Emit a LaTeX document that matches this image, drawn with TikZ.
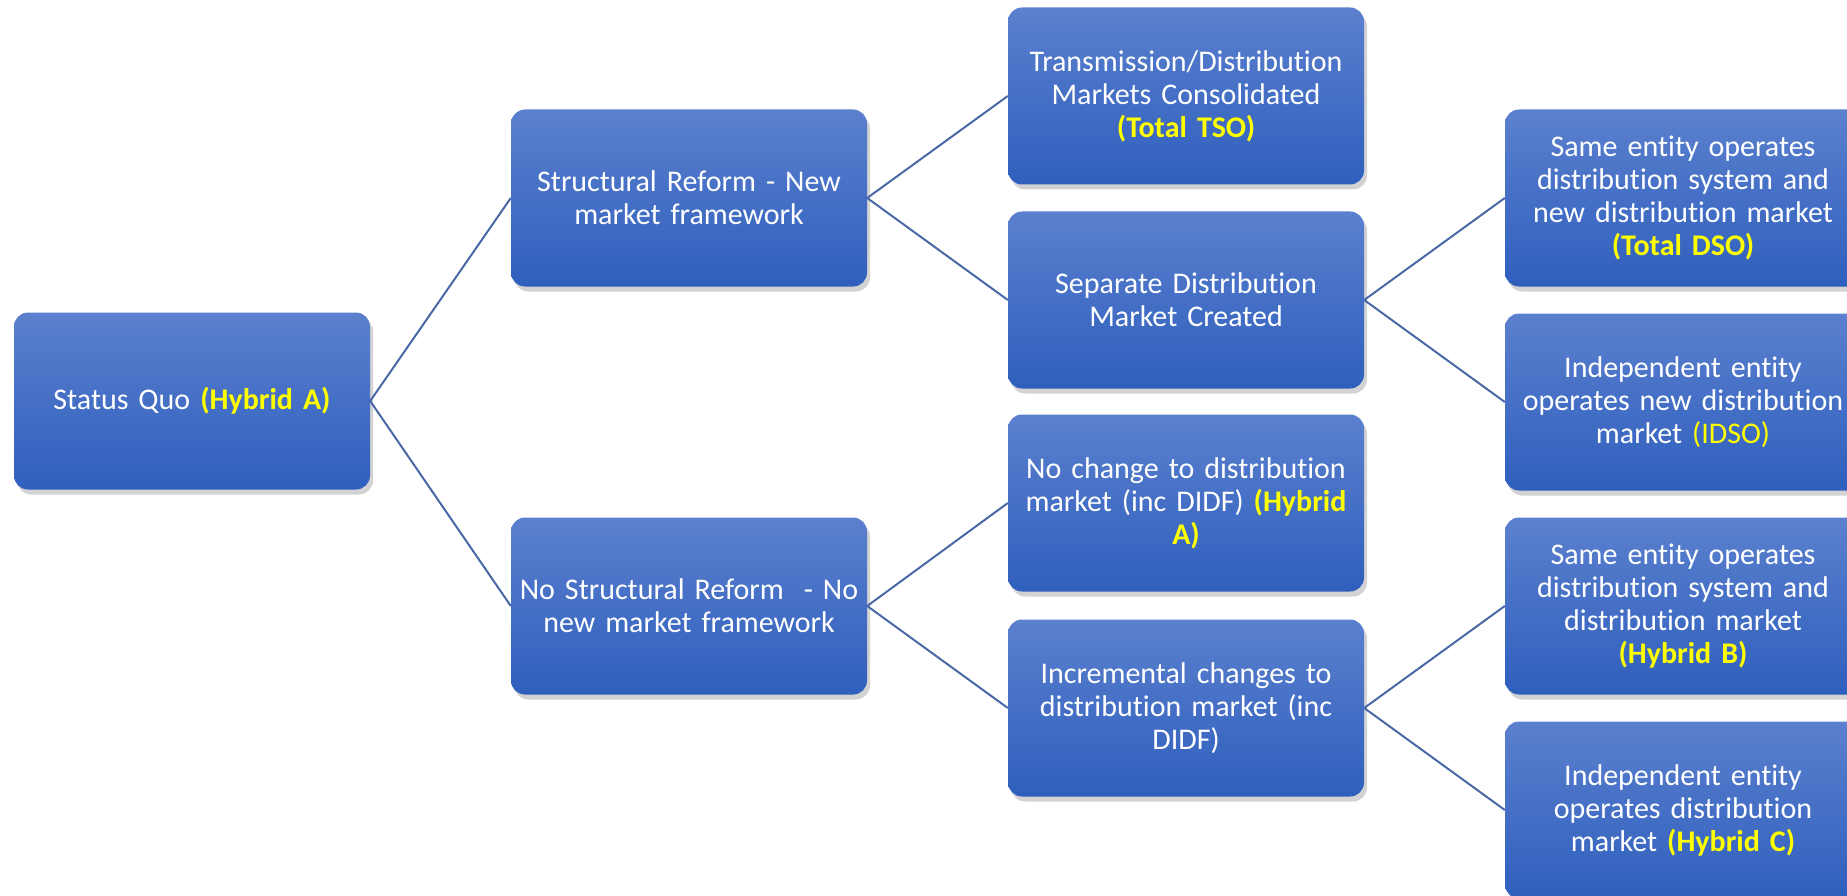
\documentclass[tikz,border=0pt]{standalone}
\usepackage{fontspec}
\setmainfont{Carlito}[Ligatures=NoCommon]
\usetikzlibrary{shapes,arrows,positioning,shadows}
\usepackage{xcolor}
\definecolor{boxtop}{HTML}{5B80CE}
\definecolor{boxbot}{HTML}{2F5FBD}
\definecolor{linkblue}{HTML}{4A68A6}
\definecolor{hlyellow}{HTML}{FFFF00}
\newcommand{\hl}[1]{{\bfseries\color{hlyellow}#1}}

\begin{document}
\begin{tikzpicture}[x=1pt,y=-1pt]
      \tikzstyle{option} = [rectangle, rounded corners=14pt, top color=boxtop, bottom color=boxbot, draw=none,
        drop shadow={shadow xshift=3pt, shadow yshift=-5pt, opacity=0.35},
        minimum width=356pt, minimum height=177pt, text width=346pt, align=center, text=white,
        font=\fontsize{30}{33}\selectfont]
      \tikzstyle{link} = [draw=linkblue, line width=2pt]

      \useasboundingbox (0,0) rectangle (1847,896);
      \clip (0,0) rectangle (1847,896);

      \node[option] (sq) at (192,401) {Status Quo \hl{(Hybrid A)}};

      \node[option] (sr) at (689,198) {Structural Reform - New\\market framework};
      \node[option] (nsr) at (689,606) {No Structural Reform~~- No\\new market framework};

      \node[option] (tso) at (1186,96) {Transmission/Distribution\\Markets Consolidated\\\hl{(Total TSO)}};
      \node[option] (sep) at (1186,300) {Separate Distribution\\Market Created};
      \node[option] (noch) at (1186,503) {No change to distribution\\market (inc DIDF) \hl{(Hybrid}\\\hl{A)}};
      \node[option] (inc) at (1186,708) {Incremental changes to\\distribution market (inc\\DIDF)};

      \node[option] (dso) at (1683,198) {Same entity operates\\distribution system and\\new distribution market\\\hl{(Total DSO)}};
      \node[option] (idso) at (1683,402) {Independent entity\\operates new distribution\\market {\color{hlyellow}(IDSO)}};
      \node[option] (hb) at (1683,606) {Same entity operates\\distribution system and\\distribution market\\\hl{(Hybrid B)}};
      \node[option] (hc) at (1683,810) {Independent entity\\operates distribution\\market \hl{(Hybrid C)}};

      \draw[link] (sq.east) -- (sr.west);
      \draw[link] (sq.east) -- (nsr.west);
      \draw[link] (sr.east) -- (tso.west);
      \draw[link] (sr.east) -- (sep.west);
      \draw[link] (nsr.east) -- (noch.west);
      \draw[link] (nsr.east) -- (inc.west);
      \draw[link] (sep.east) -- (dso.west);
      \draw[link] (sep.east) -- (idso.west);
      \draw[link] (inc.east) -- (hb.west);
      \draw[link] (inc.east) -- (hc.west);
    \end{tikzpicture}
\end{document}
